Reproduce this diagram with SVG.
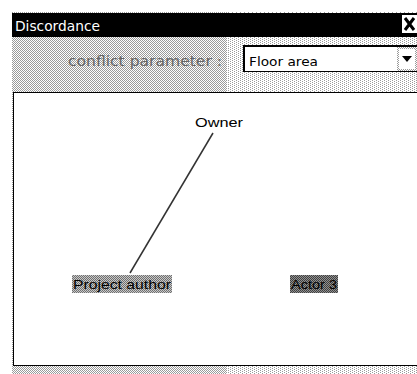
<svg xmlns="http://www.w3.org/2000/svg" width="417" height="374" viewBox="0 0 417 374">
<defs>
<pattern id="dith" width="2" height="2" patternUnits="userSpaceOnUse">
<rect width="2" height="2" fill="#ffffff"/>
<rect width="1" height="1" fill="#9a9a9a"/>
<rect x="1" y="1" width="1" height="1" fill="#9a9a9a"/>
</pattern>
<pattern id="dith2" width="4" height="2" patternUnits="userSpaceOnUse">
<rect width="4" height="2" fill="#ffffff"/>
<rect width="1" height="1" fill="#9a9a9a"/>
<rect x="2" y="1" width="1" height="1" fill="#9a9a9a"/>
</pattern>
<pattern id="dark" width="2" height="2" patternUnits="userSpaceOnUse">
<rect width="2" height="2" fill="#c8c8c8"/>
<rect width="1" height="1" fill="#707070"/>
<rect x="1" y="1" width="1" height="1" fill="#707070"/>
</pattern>
<pattern id="darker" width="2" height="2" patternUnits="userSpaceOnUse">
<rect width="2" height="2" fill="#909090"/>
<rect width="1" height="1" fill="#404040"/>
<rect x="1" y="1" width="1" height="1" fill="#404040"/>
</pattern>
</defs>
<style>
.t{font-family:"Liberation Sans",Arial,sans-serif;font-size:13px;fill:#000}
.f{font-family:"DejaVu Sans",Verdana,sans-serif;font-size:13px;fill:#000}
.w{font-family:"DejaVu Sans",Verdana,sans-serif;font-size:14px;fill:#fff}
.g{font-family:"DejaVu Sans",Verdana,sans-serif;font-size:14px;fill:#666}
</style>
<rect x="0" y="0" width="417" height="374" fill="#ffffff"/>
<g id="window">
<rect x="12" y="12" width="405" height="362" fill="url(#dith2)"/>
<rect x="12" y="12" width="215" height="362" fill="url(#dith)"/>
<rect x="12" y="13" width="405" height="24" fill="#000"/>
<text class="w" x="15" y="31" textLength="85" lengthAdjust="spacingAndGlyphs">Discordance</text>
<rect x="402" y="15" width="15" height="18" fill="#fff"/>
<path d="M405 18 L414 30 M414 18 L405 30" stroke="#000" stroke-width="3"/>
</g>
<g id="parameter">
<text class="g" x="68" y="66" textLength="154" lengthAdjust="spacingAndGlyphs">conflict parameter :</text>
<rect x="243" y="45" width="174" height="27" fill="#000"/>
<rect x="245" y="47" width="172" height="24" fill="#fff"/>
<text class="f" x="249" y="66" textLength="69" lengthAdjust="spacingAndGlyphs">Floor area</text>
<rect x="397" y="47" width="20" height="24" fill="url(#dith)"/>
<rect x="399" y="49" width="16" height="20" fill="#fff"/>
<path d="M402 56 L412 56 L407 62 Z" fill="#000"/>
</g>
<g id="canvas">
<rect x="13" y="92" width="404" height="274" fill="#000"/>
<rect x="14" y="93" width="403" height="272" fill="#fff"/>
</g>
<g id="connectors">
<line x1="213" y1="133" x2="130" y2="273" stroke="#333" stroke-width="1.5"/>
</g>
<g id="owner">
<text class="t" x="195" y="127" textLength="48" lengthAdjust="spacingAndGlyphs">Owner</text>
</g>
<g id="project-author">
<rect x="72" y="275" width="100" height="18" fill="url(#dark)"/>
<text class="t" x="73" y="289" textLength="98" lengthAdjust="spacingAndGlyphs">Project author</text>
</g>
<g id="actor-3">
<rect x="290" y="275" width="48" height="18" fill="url(#darker)"/>
<text class="t" x="291" y="289" textLength="46" lengthAdjust="spacingAndGlyphs">Actor 3</text>
</g>
</svg>
